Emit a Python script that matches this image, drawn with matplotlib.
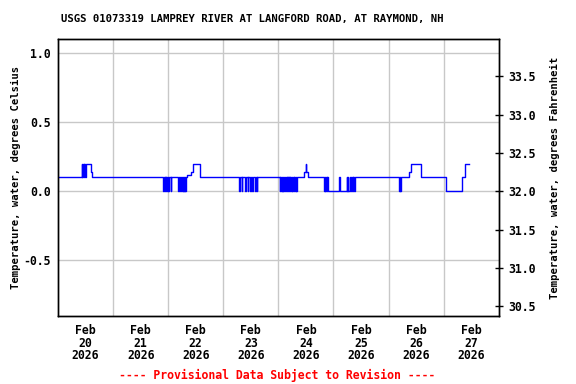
import numpy as np
import matplotlib
matplotlib.use("Agg")
import matplotlib.pyplot as plt
import matplotlib.dates as mdates
from matplotlib.ticker import FixedLocator, FormatStrFormatter

# Water temperature readings: hours after 2026-02-20 00:00 and value (deg C)
hours = [
    0.00, 10.33, 10.63, 10.85, 11.15, 11.37, 11.59, 12.20, 14.38, 14.94,
    45.96, 46.21, 46.40, 46.65, 46.96, 47.21, 47.57, 47.82, 48.05, 48.30,
    49.10, 49.35, 52.41, 52.66, 53.15, 53.40, 54.15, 54.40,
    54.60, 54.85, 55.05, 55.30, 55.45, 55.70,
    56.20, 57.94, 58.82, 61.87,
    78.99, 79.24, 80.03, 80.28, 81.47, 81.72, 82.65, 82.90, 83.65, 83.90,
    84.65, 84.90, 85.83, 86.08, 86.57, 86.82,
    96.72, 96.92, 97.06, 97.26, 97.37, 97.57, 97.80, 98.00, 98.24, 98.44,
    98.76, 98.96, 99.11, 99.31, 99.55, 99.75, 100.12, 100.32, 100.64, 100.84,
    101.08, 101.28, 101.38, 101.58, 101.73, 101.93, 102.08, 102.28, 102.38, 102.58,
    102.73, 102.93, 103.12, 103.32, 103.47, 103.67, 103.82, 104.02,
    107.39, 107.91, 108.26, 108.92,
    116.00, 116.25, 116.50, 116.75, 117.00, 117.25, 117.50,
    122.42, 122.67, 125.78, 126.03, 126.21, 126.46,
    127.21, 127.65, 127.90, 128.39, 128.64, 128.96, 129.21,
    148.50, 149.00, 149.20, 149.60,
    152.92, 153.66, 158.02, 169.17, 175.88, 177.32, 179.19,
]
temps = [
    0.1, 0.2, 0.1, 0.2, 0.1, 0.2, 0.1, 0.2, 0.14, 0.1,
    0.0, 0.1, 0.0, 0.1, 0.0, 0.1, 0.0, 0.1, 0.0, 0.1,
    0.0, 0.1, 0.0, 0.1, 0.0, 0.1, 0.0, 0.1,
    0.0, 0.1, 0.0, 0.1, 0.0, 0.1,
    0.12, 0.14, 0.2, 0.1,
    0.0, 0.1, 0.0, 0.1, 0.0, 0.1, 0.0, 0.1, 0.0, 0.1,
    0.0, 0.1, 0.0, 0.1, 0.0, 0.1,
    0.0, 0.1, 0.0, 0.1, 0.0, 0.1, 0.0, 0.1, 0.0, 0.1,
    0.0, 0.1, 0.0, 0.1, 0.0, 0.1, 0.0, 0.1, 0.0, 0.1,
    0.0, 0.1, 0.0, 0.1, 0.0, 0.1, 0.0, 0.1, 0.0, 0.1,
    0.0, 0.1, 0.0, 0.1, 0.0, 0.1, 0.0, 0.1,
    0.14, 0.2, 0.14, 0.1,
    0.0, 0.1, 0.0, 0.1, 0.0, 0.1, 0.0,
    0.1, 0.0, 0.1, 0.0, 0.1, 0.0,
    0.1, 0.0, 0.1, 0.0, 0.1, 0.0, 0.1,
    0.0, 0.1, 0.0, 0.1,
    0.14, 0.2, 0.1, 0.0, 0.1, 0.2, 0.2,
]

day_labels = ["Feb\n20\n2026", "Feb\n21\n2026", "Feb\n22\n2026", "Feb\n23\n2026",
              "Feb\n24\n2026", "Feb\n25\n2026", "Feb\n26\n2026", "Feb\n27\n2026"]
c_ticks = [-0.5, 0.0, 0.5, 1.0]
f_ticks = [30.5, 31.0, 31.5, 32.0, 32.5, 33.0, 33.5]

title = "USGS 01073319 LAMPREY RIVER AT LANGFORD ROAD, AT RAYMOND, NH"
font = "DejaVu Sans Mono"

start = np.datetime64("2026-02-20T00:00")
times = start + (np.array(hours) * 60).astype("timedelta64[m]")
times = times.astype("datetime64[ms]").astype(object)

fig = plt.figure(figsize=(5.76, 3.84), dpi=100)
ax = fig.add_axes([0.1007, 0.1771, 0.7651, 0.7206])

ax.plot(times, temps, drawstyle="steps-post", color="#0000ff", lw=1.0)

x0 = mdates.date2num(start.astype("datetime64[ms]").astype(object))
ax.set_xlim(x0, x0 + 8)
ax.set_ylim(-0.904, 1.101)

# labels at noon, grid lines at midnight
ax.xaxis.set_major_locator(FixedLocator([x0 + d + 0.5 for d in range(8)]))
ax.set_xticklabels(day_labels)
ax.xaxis.set_minor_locator(FixedLocator([x0 + d for d in range(1, 8)]))
ax.grid(which="minor", axis="x", color="#c8c8c8", lw=1.0)
ax.tick_params(axis="x", which="both", length=0, pad=6)

ax.set_yticks(c_ticks)
ax.yaxis.set_major_formatter(FormatStrFormatter("%.1f"))
ax.grid(which="major", axis="y", color="#c8c8c8", lw=1.0)
ax.tick_params(axis="y", length=0, pad=5)
ax.set_axisbelow(True)

for lab in ax.get_xticklabels() + ax.get_yticklabels():
    lab.set_family(font)
    lab.set_weight("bold")
    lab.set_fontsize(8.3)
for lab in ax.get_xticklabels():
    lab.set_linespacing(0.95)

ax.set_ylabel("Temperature, water, degrees Celsius", family=font,
              weight="bold", fontsize=7.6, labelpad=2)

# Fahrenheit axis
ax2 = ax.twinx()
lo, hi = ax.get_ylim()
ax2.set_ylim(lo * 1.8 + 32, hi * 1.8 + 32)
ax2.set_yticks(f_ticks)
ax2.yaxis.set_major_formatter(FormatStrFormatter("%.1f"))
ax2.tick_params(axis="y", direction="inout", length=6, width=1, pad=4)
for lab in ax2.get_yticklabels():
    lab.set_family(font)
    lab.set_weight("bold")
    lab.set_fontsize(8.3)
ax2.set_ylabel("Temperature, water, degrees Fahrenheit", family=font,
               weight="bold", fontsize=7.6, labelpad=10)

for a in (ax, ax2):
    for s in a.spines.values():
        s.set_color("black")
        s.set_linewidth(1.0)

fig.text(0.4375, 0.951, title, ha="center", va="center", family=font,
         weight="bold", fontsize=7.7)
fig.text(0.4809, 0.023, "---- Provisional Data Subject to Revision ----",
         ha="center", va="center", family=font, weight="bold",
         fontsize=8.3, color="red")

fig.savefig("out.png", dpi=100)
